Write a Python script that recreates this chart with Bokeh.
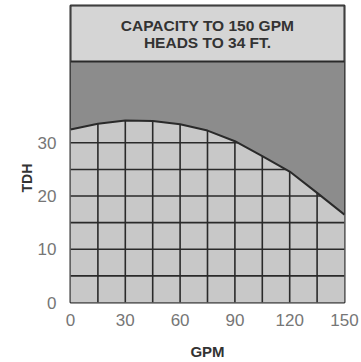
import numpy as np
from bokeh.plotting import figure
from bokeh.models import Range1d, FixedTicker, Label, Title
from bokeh.embed import file_html
from bokeh.resources import INLINE

# ---- data ----
gpm = [0, 15, 30, 45, 60, 75, 90, 105, 120, 135, 150]
tdh = [32.5, 33.6, 34.2, 34.1, 33.5, 32.3, 30.3, 27.5, 24.6, 20.6, 16.5]
x_ticks = [0, 30, 60, 90, 120, 150]
y_ticks = [0, 10, 20, 30]
grid_x = [15, 30, 45, 60, 75, 90, 105, 120, 135]
grid_y = [5, 10, 15, 20, 25, 30]
band_top = 45.3
header_top = 55.8
title_lines = ["CAPACITY TO 150 GPM", "HEADS TO 34 FT."]

LIGHT = "#c8c8c8"
DARK = "#8c8c8c"
HEADER = "#d5d5d5"
INK = "#2a2a2a"

W, H = 361, 362
ML, MR, MT, MB = 70, 17, 5, 52
p = figure(width=W, height=H, output_backend="svg", toolbar_location=None,
           x_range=Range1d(0, 150), y_range=Range1d(0, header_top),
           min_border_left=ML, min_border_right=MR, min_border_top=MT,
           min_border_bottom=MB)
p.background_fill_color = LIGHT
p.border_fill_color = "white"
p.outline_line_color = INK
p.outline_line_width = 2
p.xgrid.grid_line_color = None
p.ygrid.grid_line_color = None

# dark band and header
p.quad(left=[0], right=[150], bottom=[0], top=[band_top], fill_color=DARK, line_color=None)
p.quad(left=[0], right=[150], bottom=[band_top], top=[header_top], fill_color=HEADER,
       line_color=INK, line_width=2)

# light area under curve
p.varea(x=gpm, y1=[0] * len(gpm), y2=tdh, fill_color=LIGHT)

# grid clipped under the curve
xs_v = [[gx, gx] for gx in grid_x]
ys_v = [[0, float(np.interp(gx, gpm, tdh))] for gx in grid_x]
p.multi_line(xs=xs_v, ys=ys_v, line_color=INK, line_width=1.6)

peak = int(np.argmax(tdh))
desc_x = np.array(gpm[peak:])[::-1]
desc_y = np.array(tdh[peak:])[::-1]
xs_h, ys_h = [], []
for gy in grid_y:
    if gy <= tdh[-1]:
        xe = 150
    else:
        xe = float(np.interp(gy, desc_y, desc_x))
    xs_h.append([0, xe])
    ys_h.append([gy, gy])
p.multi_line(xs=xs_h, ys=ys_h, line_color=INK, line_width=1.6)

# curve
p.line(gpm, tdh, line_color=INK, line_width=2)

# header text
mid = (band_top + header_top) / 2
for i, t in enumerate(title_lines):
    p.add_layout(Label(x=75, y=mid + (1.4 if i == 0 else -1.75), text=t,
                       text_align="center", text_baseline="middle",
                       text_font="Liberation Sans", text_font_style="bold",
                       text_font_size="15.5px", text_color="#333333"))

# axes
for ax in (p.xaxis[0], p.yaxis[0]):
    ax.axis_line_color = None
    ax.major_tick_line_color = None
    ax.minor_tick_line_color = None
    ax.major_label_text_font = "Liberation Sans"
    ax.major_label_text_font_size = "17px"
    ax.major_label_text_color = "#767676"
    ax.axis_label_text_font = "Liberation Sans"
    ax.axis_label_text_font_style = "bold"
    ax.axis_label_text_color = "#333333"
    ax.axis_label_text_font_size = "15px"
p.xaxis.ticker = FixedTicker(ticks=x_ticks)
p.yaxis.ticker = FixedTicker(ticks=y_ticks)
p.xaxis.major_label_standoff = 5
p.yaxis.major_label_standoff = 8
p.xaxis.axis_label = "GPM"
p.xaxis.axis_label_standoff = 14

# TDH label as a left-side title, placed over the 0..band range
p.add_layout(Title(text="TDH", align="left", offset=110,
                   text_font="Liberation Sans", text_font_style="bold",
                   text_font_size="14px", text_color="#333333",
                   standoff=0), "left")

open("out.html", "w").write(file_html(p, INLINE))
